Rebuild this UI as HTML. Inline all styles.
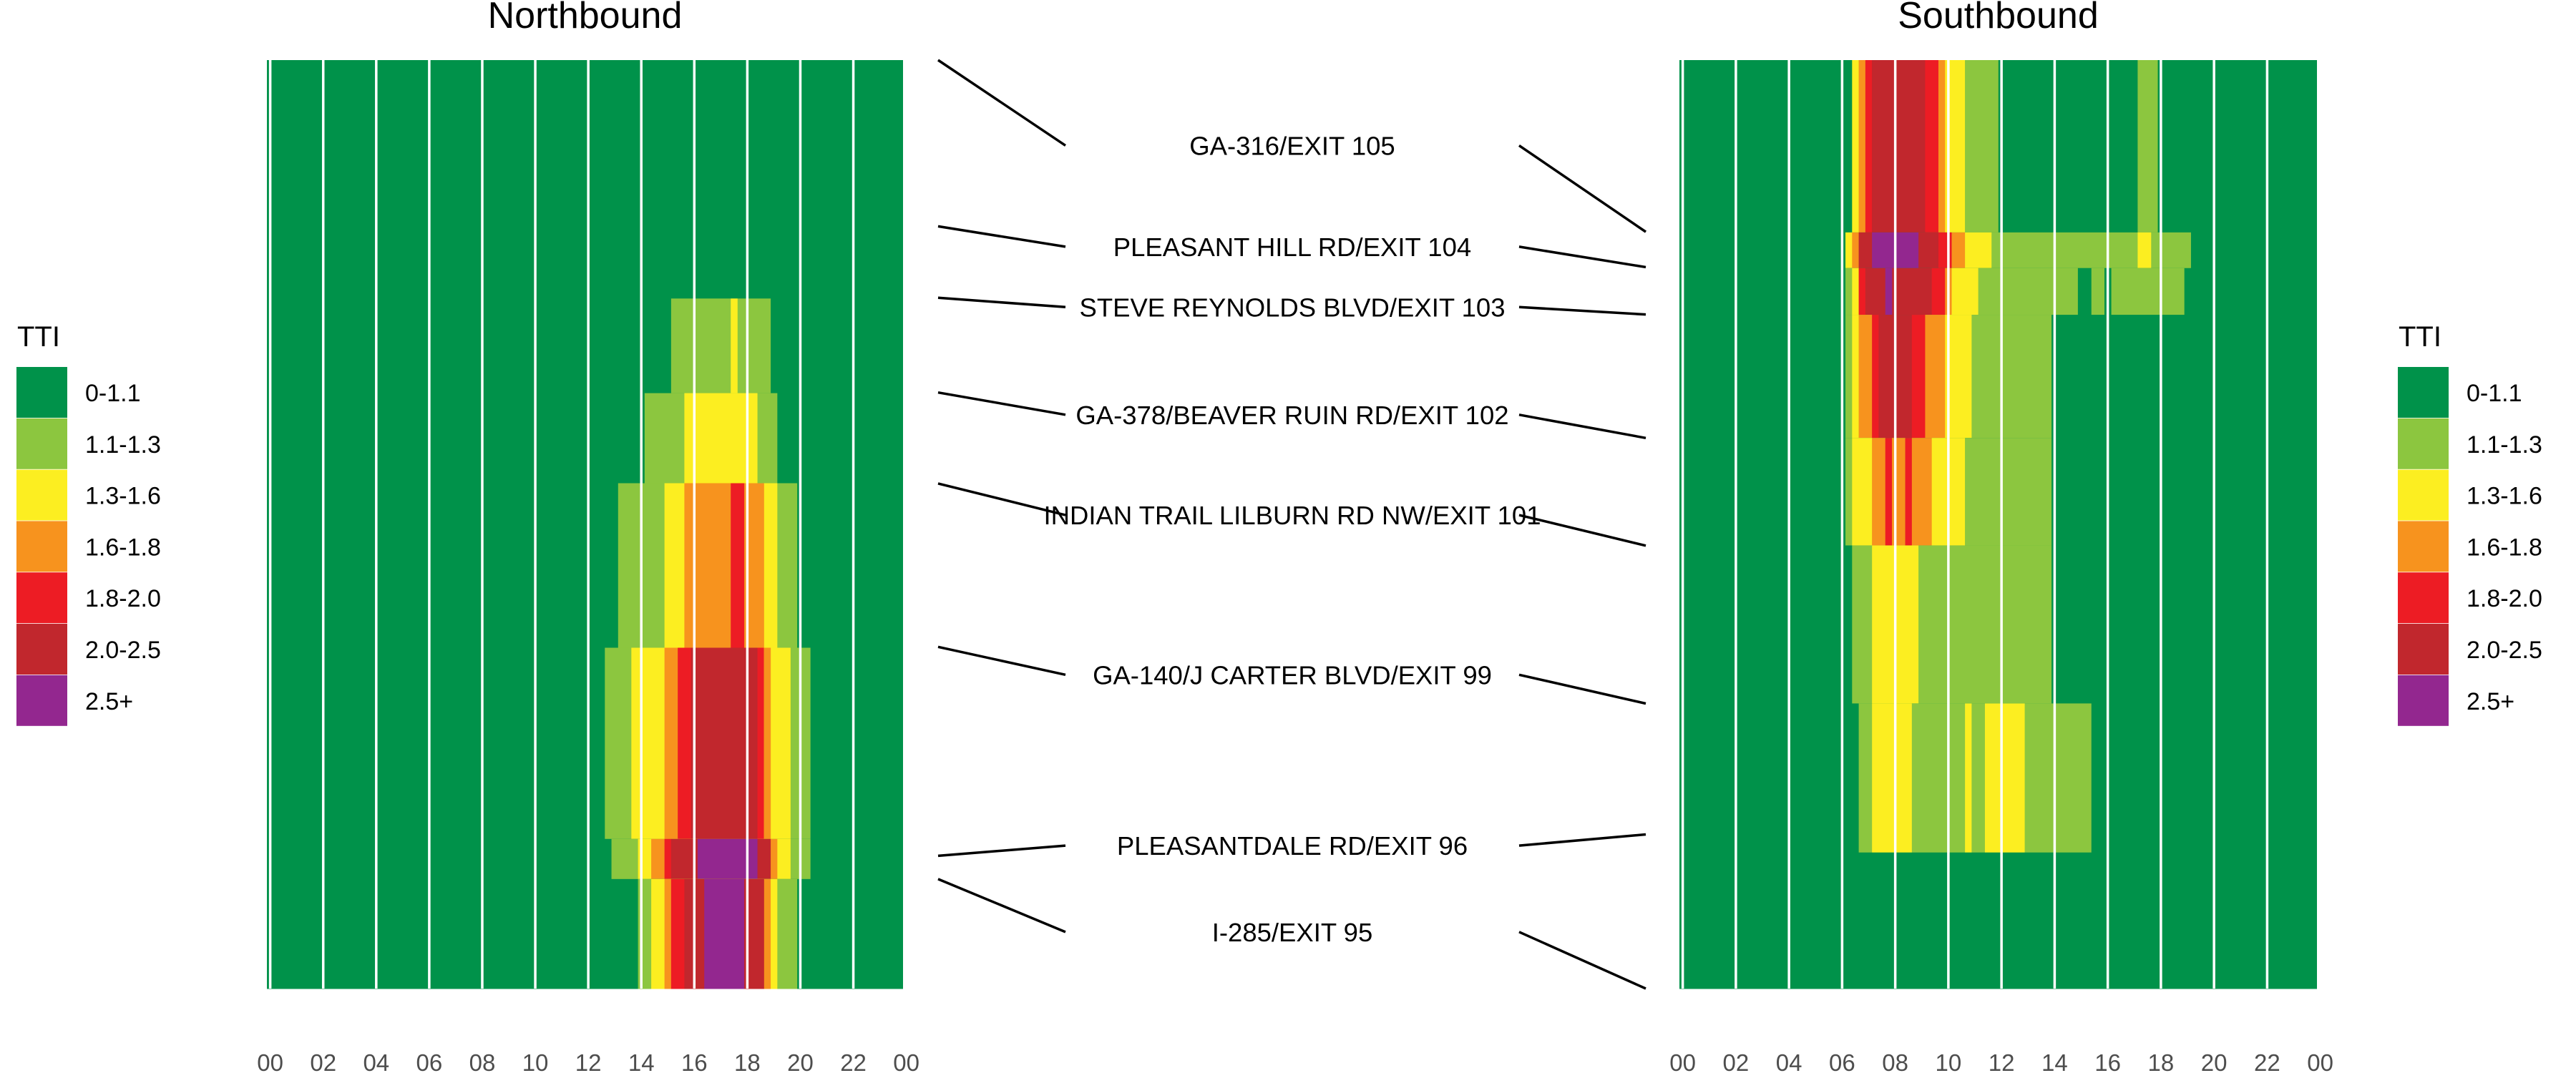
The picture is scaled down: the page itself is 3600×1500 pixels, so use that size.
<!DOCTYPE html>
<html><head><meta charset="utf-8"><style>
html,body{margin:0;padding:0;background:#fff;}
svg{display:block;font-family:"Liberation Sans",Arial,sans-serif;}
</style></head><body>
<svg id="chart" width="3600" height="1500" viewBox="0 0 3600 1500" xmlns="http://www.w3.org/2000/svg"></svg>
<script>
// ---- data ----
const categories = ["0-1.1","1.1-1.3","1.3-1.6","1.6-1.8","1.8-2.0","2.0-2.5","2.5+"];
const catColors = ["#00924a","#8cc63f","#fcee21","#f7931e","#ed1c24","#c1272d","#93278f"];
const hourTicks = ["00","02","04","06","08","10","12","14","16","18","20","22","00"];
// segment boundaries as fraction along corridor (top=north end)
const nbBounds = [0, 0.2568, 0.3587, 0.4557, 0.6329, 0.8388, 0.8820, 1];
const sbBounds = [0, 0.1856, 0.2240, 0.2743, 0.4069, 0.5227, 0.6929, 0.8534, 1];
// runs per segment: [startBin, endBin, category] (15-min bins, painted in order over base 0)
const nbRuns = [
  [],
  [[61,75,1],[70,70,2]],
  [[57,76,1],[63,73,2]],
  [[53,79,1],[60,76,2],[63,74,3],[70,71,4]],
  [[51,81,1],[55,78,2],[60,75,3],[62,74,4],[64,73,5],[75,75,3]],
  [[52,81,1],[56,78,2],[58,76,3],[60,60,4],[61,75,5],[65,73,6]],
  [[56,79,1],[58,76,2],[60,75,3],[61,62,4],[63,74,5],[66,71,6]]
];
const sbRuns = [
  [[26,26,2],[27,27,3],[28,28,4],[29,36,5],[37,38,4],[39,39,3],[40,42,2],[43,47,1],[69,71,1]],
  [[25,25,2],[26,26,3],[27,28,5],[29,35,6],[36,38,5],[39,40,4],[41,42,3],[43,46,2],[47,76,1],[69,70,2]],
  [[25,25,1],[26,26,2],[27,27,4],[28,37,5],[31,31,6],[38,39,4],[40,40,3],[41,44,2],[45,75,1],[60,61,0],[64,64,0]],
  [[25,25,1],[26,26,2],[27,28,3],[29,29,4],[30,34,5],[35,36,4],[37,39,3],[40,43,2],[44,55,1]],
  [[25,25,1],[26,28,2],[29,30,3],[31,31,4],[32,33,3],[34,34,4],[35,37,3],[38,42,2],[43,55,1]],
  [[26,28,1],[29,35,2],[36,55,1]],
  [[27,28,1],[29,34,2],[35,42,1],[43,43,2],[44,45,1],[46,51,2],[52,61,1]],
  []
];
const exitLabels = ["GA-316/EXIT 105","PLEASANT HILL RD/EXIT 104","STEVE REYNOLDS BLVD/EXIT 103","GA-378/BEAVER RUIN RD/EXIT 102","INDIAN TRAIL LILBURN RD NW/EXIT 101","GA-140/J CARTER BLVD/EXIT 99","PLEASANTDALE RD/EXIT 96","I-285/EXIT 95"];
const labelPos = [0.092, 0.201, 0.266, 0.382, 0.490, 0.662, 0.846, 0.939];
const nbExitPos = [0.000, 0.179, 0.256, 0.358, 0.456, 0.632, 0.857, 0.882];
const sbExitPos = [0.185, 0.223, 0.274, 0.407, 0.523, 0.693, 0.834, 1.000];

// ---- layout ----
const NS="http://www.w3.org/2000/svg";
const svg=document.getElementById('chart');
const plotTop=84, plotBot=1382;
const panels=[{name:'northbound',title:'Northbound',x0:373,x1:1262,bounds:nbBounds,runs:nbRuns},
              {name:'southbound',title:'Southbound',x0:2347,x1:3238,bounds:sbBounds,runs:sbRuns}];
function el(tag,attrs,parent){const e=document.createElementNS(NS,tag);for(const k in attrs)e.setAttribute(k,attrs[k]);(parent||svg).appendChild(e);return e;}
function yScale(f){return plotTop+f*(plotBot-plotTop);}

panels.forEach(p=>{
  const xs=h=>p.x0+(h+0.125)*(p.x1-p.x0)/24;
  const g=el('g',{});
  
  
  for(let r=0;r<p.bounds.length-1;r++){
    const y0=yScale(p.bounds[r]), y1=yScale(p.bounds[r+1]);
    const base=el('rect',{x:p.x0,y:y0,width:p.x1-p.x0,height:y1-y0+0.5,fill:catColors[0]},g);
    
    
    p.runs[r].forEach(run=>{
      const xa=xs(run[0]/4-0.125), xb=xs(run[1]/4+0.125);
      const c=el('rect',{x:xa,y:y0,width:xb-xa+0.3,height:y1-y0+0.5,fill:catColors[run[2]]},g);
      
      
    });
  }
  hourTicks.forEach((t,i)=>{
    const x=xs(i*2);
    if(i<hourTicks.length-1){
      const l=el('line',{x1:x,x2:x,y1:plotTop,y2:plotBot,stroke:'#fff','stroke-width':3.5},g);
      
      
    }
    const tx=el('text',{x:x,y:1497,'text-anchor':'middle','font-size':33,fill:'#4d4d4d'},g);
    tx.textContent=t;
    
    
  });
  const tt=el('text',{x:(p.x0+p.x1)/2,y:39,'text-anchor':'middle','font-size':52,fill:'#000'},g);
  tt.textContent=p.title;
  
  
});

// exit labels + connectors
exitLabels.forEach((lab,i)=>{
  const ly=yScale(labelPos[i]);
  const l1=el('line',{x1:1311,y1:yScale(nbExitPos[i]),x2:1489,y2:ly,stroke:'#000','stroke-width':3.5});
  
  
  const l2=el('line',{x1:2123,y1:ly,x2:2300,y2:yScale(sbExitPos[i]),stroke:'#000','stroke-width':3.5});
  
  
  const t=el('text',{x:1806,y:ly+13,'text-anchor':'middle','font-size':36.5,fill:'#000'});
  t.textContent=lab;
  
  
});

// legends
[23,3351].forEach((lx,j)=>{
  const g=el('g',{});
  
  
  const t=el('text',{x:lx+1,y:484,'font-size':40,fill:'#000'},g);
  t.textContent='TTI';
  
  
  categories.forEach((c,i)=>{
    const y=513+i*71.8;
    const r=el('rect',{x:lx,y:y,width:71,height:71,fill:catColors[i]},g);
    
    
    const tx=el('text',{x:lx+96,y:y+48,'font-size':34,fill:'#000'},g);
    tx.textContent=c;
    
    
  });
});
</script>
</body></html>
